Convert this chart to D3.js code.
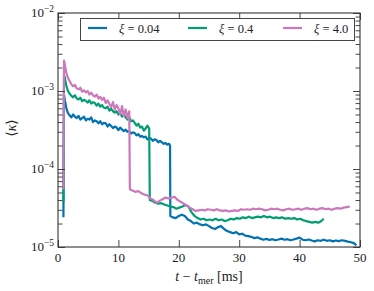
<!DOCTYPE html>
<meta charset="utf-8">
<head>
    <title>kappa vs time</title>
    <style>
        body { margin: 0; background: #fff; }
        svg text { font-family: "Liberation Serif", "DejaVu Serif", serif; fill: #222; }
    </style>
</head>
<body>
<script src="https://cdn.jsdelivr.net/npm/d3@7"></script>
<svg id="chart" width="374" height="291"></svg>

<script>
    // series: [t - t_mer (ms), <kappa>]
    var xi004 = [
        [0.9, 2.4e-5], [1.0, 8.9e-4], [1.15, 7.5e-4], [1.35, 6.2e-4], [1.6, 5.3e-4], [1.9, 4.9e-4],
        [2.2, 4.6e-4], [2.5, 5.0e-4], [2.8, 4.7e-4], [3.1, 4.5e-4], [3.4, 4.8e-4], [3.7, 4.3e-4],
        [4.0, 4.5e-4], [4.3, 4.7e-4], [4.6, 4.2e-4], [4.9, 4.4e-4], [5.2, 4.3e-4], [5.5, 4.6e-4],
        [5.8, 4.0e-4], [6.1, 4.2e-4], [6.4, 4.1e-4], [6.7, 3.85e-4], [7.0, 4.1e-4], [7.3, 3.75e-4],
        [7.6, 3.9e-4], [7.9, 3.85e-4], [8.2, 3.5e-4], [8.5, 3.75e-4], [8.8, 3.55e-4], [9.1, 3.35e-4],
        [9.4, 3.5e-4], [9.7, 3.4e-4], [10.0, 3.15e-4], [10.3, 3.4e-4], [10.6, 3.2e-4], [10.9, 3.05e-4],
        [11.2, 3.2e-4], [11.5, 3.0e-4], [11.8, 3.05e-4], [12.1, 2.85e-4], [12.4, 2.95e-4], [12.7, 2.9e-4],
        [13.0, 2.7e-4], [13.3, 2.8e-4], [13.6, 2.6e-4], [13.9, 2.65e-4], [14.2, 2.55e-4], [14.5, 2.6e-4],
        [14.8, 2.4e-4], [15.1, 2.5e-4], [15.4, 2.45e-4], [15.7, 2.3e-4], [16.0, 2.4e-4], [16.3, 2.35e-4],
        [16.6, 2.2e-4], [16.9, 2.3e-4], [17.2, 2.2e-4], [17.5, 2.1e-4], [17.8, 2.15e-4], [18.1, 2.05e-4],
        [18.4, 2.1e-4], [18.55, 2.0e-4], [18.6, 2.5e-5],
        [19.0, 2.4e-5], [19.5, 2.35e-5], [20.0, 2.5e-5], [20.5, 2.6e-5], [21.0, 2.5e-5], [21.5, 2.25e-5],
        [22.0, 2.15e-5], [22.5, 2.0e-5], [23.0, 2.05e-5], [23.5, 1.95e-5], [24.0, 1.9e-5], [24.5, 1.95e-5],
        [25.0, 1.85e-5], [25.5, 1.75e-5], [26.0, 1.7e-5], [26.5, 1.8e-5], [27.0, 1.85e-5], [27.5, 1.7e-5],
        [28.0, 1.6e-5], [28.5, 1.55e-5], [29.0, 1.5e-5], [29.5, 1.55e-5], [30.0, 1.45e-5], [30.5, 1.48e-5],
        [31.0, 1.4e-5], [31.5, 1.38e-5], [32.0, 1.35e-5], [32.5, 1.3e-5], [33.0, 1.33e-5], [33.5, 1.28e-5],
        [34.0, 1.24e-5], [34.5, 1.27e-5], [35.0, 1.23e-5], [35.5, 1.26e-5], [36.0, 1.22e-5], [36.5, 1.25e-5],
        [37.0, 1.28e-5], [37.5, 1.24e-5], [38.0, 1.26e-5], [38.5, 1.22e-5], [39.0, 1.25e-5], [39.5, 1.28e-5],
        [40.0, 1.32e-5], [40.5, 1.24e-5], [41.0, 1.22e-5], [41.5, 1.25e-5], [42.0, 1.21e-5], [42.5, 1.18e-5],
        [43.0, 1.22e-5], [43.5, 1.2e-5], [44.0, 1.24e-5], [44.5, 1.2e-5], [45.0, 1.22e-5], [45.5, 1.18e-5],
        [46.0, 1.21e-5], [46.5, 1.19e-5], [47.0, 1.22e-5], [47.5, 1.2e-5], [48.0, 1.17e-5], [48.5, 1.15e-5],
        [49.0, 1.12e-5], [49.4, 1.05e-5]
    ];

    var xi04 = [
        [0.9, 3.8e-5], [1.0, 1.6e-3], [1.15, 1.45e-3], [1.35, 1.2e-3], [1.6, 1.02e-3], [1.9, 0.93e-3],
        [2.2, 0.87e-3], [2.5, 0.83e-3], [2.8, 0.88e-3], [3.1, 0.8e-3], [3.4, 0.78e-3], [3.7, 0.82e-3],
        [4.0, 0.74e-3], [4.3, 0.77e-3], [4.6, 0.75e-3], [4.9, 0.71e-3], [5.2, 0.76e-3], [5.5, 0.69e-3],
        [5.8, 0.72e-3], [6.1, 0.7e-3], [6.4, 0.65e-3], [6.7, 0.69e-3], [7.0, 0.63e-3], [7.3, 0.66e-3],
        [7.6, 0.61e-3], [7.9, 0.6e-3], [8.2, 0.63e-3], [8.5, 0.56e-3], [8.8, 0.59e-3], [9.1, 0.55e-3],
        [9.4, 0.53e-3], [9.7, 0.55e-3], [10.0, 0.5e-3], [10.3, 0.52e-3], [10.6, 0.47e-3], [10.9, 0.49e-3],
        [11.2, 0.46e-3], [11.5, 0.43e-3], [11.8, 0.46e-3], [12.1, 0.41e-3], [12.4, 0.42e-3], [12.7, 0.39e-3],
        [13.0, 0.36e-3], [13.3, 0.38e-3], [13.6, 0.34e-3], [13.9, 0.35e-3], [14.2, 0.31e-3], [14.5, 0.33e-3],
        [14.8, 0.36e-3], [15.1, 0.33e-3], [15.2, 4.0e-5],
        [15.6, 3.9e-5], [16.1, 3.7e-5], [16.6, 3.6e-5], [17.1, 3.65e-5], [17.6, 3.5e-5], [18.1, 3.4e-5],
        [18.6, 3.3e-5], [19.1, 3.25e-5], [19.6, 3.1e-5], [20.1, 3.2e-5], [20.6, 3.3e-5], [21.1, 3.45e-5],
        [21.6, 3.3e-5], [22.1, 2.8e-5], [22.6, 2.5e-5], [23.1, 2.35e-5], [23.6, 2.25e-5], [24.1, 2.3e-5],
        [24.6, 2.2e-5], [25.1, 2.25e-5], [25.6, 2.2e-5], [26.1, 2.3e-5], [26.6, 2.2e-5], [27.1, 2.25e-5],
        [27.6, 2.15e-5], [28.1, 2.2e-5], [28.6, 2.3e-5], [29.1, 2.25e-5], [29.6, 2.35e-5], [30.1, 2.3e-5],
        [30.6, 2.4e-5], [31.1, 2.35e-5], [31.6, 2.45e-5], [32.1, 2.35e-5], [32.6, 2.4e-5], [33.1, 2.45e-5],
        [33.6, 2.4e-5], [34.1, 2.5e-5], [34.6, 2.4e-5], [35.1, 2.45e-5], [35.6, 2.35e-5], [36.1, 2.4e-5],
        [36.6, 2.35e-5], [37.1, 2.4e-5], [37.6, 2.3e-5], [38.1, 2.35e-5], [38.6, 2.3e-5], [39.1, 2.35e-5],
        [39.6, 2.25e-5], [40.1, 2.3e-5], [40.6, 2.2e-5], [41.1, 2.15e-5], [41.6, 2.1e-5], [42.1, 2.05e-5],
        [42.6, 2.1e-5], [43.1, 2.05e-5], [43.6, 2.15e-5], [44.0, 2.3e-5]
    ];

    var xi40 = [
        [0.9, 5.5e-5], [1.0, 2.45e-3], [1.15, 2.15e-3], [1.35, 1.75e-3], [1.6, 1.5e-3], [1.9, 1.35e-3],
        [2.2, 1.22e-3], [2.5, 1.15e-3], [2.8, 1.2e-3], [3.1, 1.08e-3], [3.4, 1.05e-3], [3.7, 1.1e-3],
        [4.0, 0.98e-3], [4.3, 1.02e-3], [4.6, 0.96e-3], [4.9, 1.0e-3], [5.2, 0.9e-3], [5.5, 0.95e-3],
        [5.8, 0.88e-3], [6.1, 0.85e-3], [6.4, 0.9e-3], [6.7, 0.8e-3], [7.0, 0.84e-3], [7.3, 0.77e-3],
        [7.6, 0.82e-3], [7.9, 0.7e-3], [8.2, 0.76e-3], [8.5, 0.68e-3], [8.8, 0.62e-3], [9.1, 0.72e-3],
        [9.4, 0.58e-3], [9.7, 0.66e-3], [10.0, 0.6e-3], [10.3, 0.5e-3], [10.6, 0.64e-3], [10.9, 0.48e-3],
        [11.2, 0.58e-3], [11.5, 0.45e-3], [11.8, 0.55e-3], [11.9, 5.5e-5],
        [12.3, 5.3e-5], [12.8, 5.1e-5], [13.3, 5.2e-5], [13.8, 4.9e-5], [14.3, 4.7e-5], [14.8, 4.6e-5],
        [15.3, 4.2e-5], [15.8, 4.0e-5], [16.3, 3.7e-5], [16.8, 3.9e-5], [17.3, 4.1e-5], [17.8, 4.3e-5],
        [18.3, 4.2e-5], [18.8, 4.3e-5], [19.3, 4.4e-5], [19.8, 4.0e-5], [20.3, 3.8e-5], [20.8, 3.6e-5],
        [21.3, 3.4e-5], [21.8, 3.2e-5], [22.3, 3.05e-5], [22.8, 2.9e-5], [23.3, 2.95e-5], [23.8, 3.0e-5],
        [24.3, 2.95e-5], [24.8, 3.05e-5], [25.3, 3.0e-5], [25.8, 2.95e-5], [26.3, 3.05e-5], [26.8, 2.95e-5],
        [27.3, 2.9e-5], [27.8, 2.95e-5], [28.3, 2.85e-5], [28.8, 2.9e-5], [29.3, 2.95e-5], [29.8, 2.9e-5],
        [30.3, 3.05e-5], [30.8, 3.0e-5], [31.3, 3.05e-5], [31.8, 3.0e-5], [32.3, 3.1e-5], [32.8, 3.05e-5],
        [33.3, 3.1e-5], [33.8, 3.05e-5], [34.3, 2.95e-5], [34.8, 3.0e-5], [35.3, 3.1e-5], [35.8, 3.05e-5],
        [36.3, 3.1e-5], [36.8, 3.0e-5], [37.3, 2.95e-5], [37.8, 3.05e-5], [38.3, 3.1e-5], [38.8, 3.0e-5],
        [39.3, 3.05e-5], [39.8, 3.1e-5], [40.3, 3.0e-5], [40.8, 3.1e-5], [41.3, 3.15e-5], [41.8, 3.05e-5],
        [42.3, 3.1e-5], [42.8, 3.0e-5], [43.3, 3.1e-5], [43.8, 3.15e-5], [44.3, 3.05e-5], [44.8, 3.1e-5],
        [45.3, 3.0e-5], [45.8, 3.1e-5], [46.3, 3.15e-5], [46.8, 3.1e-5], [47.3, 3.2e-5], [47.8, 3.25e-5],
        [48.3, 3.3e-5]
    ];

    var seriesLabels = ["0.04", "0.4", "4.0"];
    var seriesColors = ["#0173b2", "#029e73", "#cc78bc"];
    var xTicks = [0, 10, 20, 30, 40, 50];
    var yExponents = [-5, -4, -3, -2];

    var svg = d3.select("#chart"),
        pL = 58, pR = 360, pT = 13, pB = 247;

    var x = d3.scaleLinear().domain([0, 50]).range([pL, pR]);
    var y = d3.scaleLog().domain([1e-5, 1e-2]).range([pB, pT]);

    svg.append("clipPath").attr("id", "clip")
        .append("rect").attr("x", pL).attr("y", pT)
        .attr("width", pR - pL).attr("height", pB - pT);

    var line = d3.line()
        .x(function (d) { return x(d[0]); })
        .y(function (d) { return y(d[1]); });

    var plot = svg.append("g").attr("clip-path", "url(#clip)");
    [xi004, xi04, xi40].forEach(function (s, i) {
        plot.append("path")
            .attr("d", line(s))
            .attr("fill", "none")
            .attr("stroke", seriesColors[i])
            .attr("stroke-width", 2.2)
            .attr("stroke-linejoin", "round");
    });

    // ticks pointing in, on all four sides
    var minorVals = [];
    yExponents.slice(0, 3).forEach(function (e) {
        for (var k = 2; k <= 9; k++) minorVals.push(k * Math.pow(10, e));
    });
    var majorY = yExponents.map(function (e) { return Math.pow(10, e); });

    var axisCol = "#333";
    svg.append("g").attr("transform", "translate(0," + pB + ")")
        .call(d3.axisBottom(x).tickValues(xTicks).tickSize(-7).tickFormat(""));
    svg.append("g").attr("transform", "translate(0," + pT + ")")
        .call(d3.axisTop(x).tickValues(xTicks).tickSize(-7).tickFormat(""));
    svg.append("g").attr("transform", "translate(" + pL + ",0)")
        .call(d3.axisLeft(y).tickValues(majorY).tickSize(-7).tickFormat(""));
    svg.append("g").attr("transform", "translate(" + pL + ",0)")
        .call(d3.axisLeft(y).tickValues(minorVals).tickSize(-4.5).tickFormat(""));
    svg.append("g").attr("transform", "translate(" + pR + ",0)")
        .call(d3.axisRight(y).tickValues(majorY).tickSize(-7).tickFormat(""));
    svg.append("g").attr("transform", "translate(" + pR + ",0)")
        .call(d3.axisRight(y).tickValues(minorVals).tickSize(-4.5).tickFormat(""));
    svg.selectAll(".domain").remove();
    svg.selectAll(".tick line").attr("stroke", axisCol).attr("stroke-width", 0.9);

    svg.append("rect")
        .attr("x", pL).attr("y", pT)
        .attr("width", pR - pL).attr("height", pB - pT)
        .attr("fill", "none").attr("stroke", axisCol).attr("stroke-width", 1.1);

    // tick labels
    svg.selectAll(".xlab").data(xTicks).enter().append("text")
        .attr("x", function (d) { return x(d); })
        .attr("y", 262)
        .attr("text-anchor", "middle")
        .attr("font-size", 13)
        .text(function (d) { return d; });

    yExponents.forEach(function (e) {
        var t = svg.append("text")
            .attr("x", 54)
            .attr("y", y(Math.pow(10, e)) + 4)
            .attr("text-anchor", "end")
            .attr("font-size", 13);
        t.append("tspan").text("10");
        t.append("tspan").attr("dy", -5).attr("font-size", 9.5).text("\u2212" + (-e));
    });

    // axis titles
    var xl = svg.append("text")
        .attr("x", 209).attr("y", 281)
        .attr("text-anchor", "middle")
        .attr("font-size", 14);
    xl.append("tspan").attr("font-style", "italic").text("t");
    xl.append("tspan").text(" \u2212 ");
    xl.append("tspan").attr("font-style", "italic").text("t");
    xl.append("tspan").attr("dy", 3).attr("font-size", 10).text("mer");
    xl.append("tspan").attr("dy", -3).text(" [ms]");

    svg.append("text")
        .attr("transform", "translate(16,128) rotate(-90)")
        .attr("text-anchor", "middle")
        .attr("font-size", 14)
        .html("\u27e8<tspan font-style='italic'>\u03ba</tspan>\u27e9");

    // legend
    svg.append("rect")
        .attr("x", 80.5).attr("y", 18.5).attr("width", 274).attr("height", 22)
        .attr("fill", "#fff").attr("stroke", "#444").attr("stroke-width", 1);

    var legX = [88, 188, 283];
    seriesLabels.forEach(function (lab, i) {
        svg.append("line")
            .attr("x1", legX[i]).attr("x2", legX[i] + 19)
            .attr("y1", 28).attr("y2", 28)
            .attr("stroke", seriesColors[i]).attr("stroke-width", 2.2);
        var t = svg.append("text")
            .attr("x", legX[i] + 31).attr("y", 33)
            .attr("font-size", 12.5);
        t.append("tspan").attr("font-style", "italic").text("\u03be");
        t.append("tspan").text(" = " + lab);
    });
</script>

</body>
